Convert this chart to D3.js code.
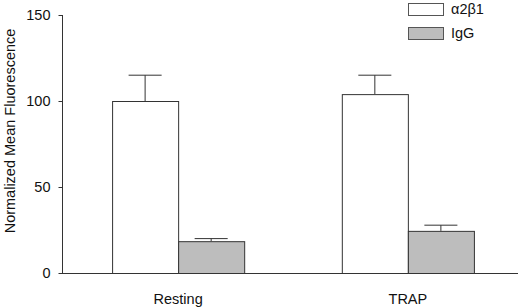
<!DOCTYPE html>
<html>
<head>
<meta charset="utf-8">
<script src="https://cdn.jsdelivr.net/npm/d3@7"></script>
<style>
  body { margin: 0; background: #fff; }
  svg text { font-family: "Liberation Sans", Arial, sans-serif; fill: #111; }
</style>
</head>
<body>
<div id="chart"></div>
<script>
"use strict";

// values
var conditions = ["Resting", "TRAP"];
var series = ["α2β1", "IgG"];
var means = [[100, 18.5], [104, 24.5]];
var errors = [[15, 1.5], [11, 3.3]];
var yTicks = [0, 50, 100, 150];
var colours = ["#ffffff", "#bdbdbd"];

var width = 520, height = 307;

var svg = d3.select("#chart")
            .append("svg")
            .attr("width", width)
            .attr("height", height);

var y = d3.scaleLinear()
          .domain([0, 150])
          .range([273, 15]);

var x = d3.scaleBand()
          .domain(conditions)
          .range([65, 521])
          .paddingInner(0.425)
          .paddingOuter(0.205);

var xs = d3.scaleBand()
           .domain(series)
           .range([0, x.bandwidth()]);

// y axis
var yAxis = d3.axisLeft(y)
              .tickValues(yTicks)
              .tickSize(4)
              .tickPadding(8);
svg.append("g")
   .attr("transform", "translate(62.5,0)")
   .call(yAxis)
   .call(function(g) {
     g.select(".domain").attr("stroke", "#333").attr("d", "M0," + y(150) + "V" + y(0));
     g.selectAll(".tick line").attr("stroke", "#333");
     g.selectAll(".tick text").attr("font-size", 14.5).attr("fill", "#111");
   });

// baseline
var xAxis = d3.axisBottom(x).tickSize(0).tickPadding(20);
svg.append("g")
   .attr("transform", "translate(0," + (y(0) + 0.5) + ")")
   .call(xAxis)
   .call(function(g) {
     g.select(".domain").attr("stroke", "#333").attr("d", "M62,0H518");
     g.selectAll(".tick text").attr("font-size", 14.5).attr("fill", "#111");
   });

svg.append("text")
   .attr("transform", "translate(15,131) rotate(-90)")
   .attr("text-anchor", "middle")
   .attr("font-size", 14.5)
   .text("Normalized Mean Fluorescence");

// bars
conditions.forEach(function(c, i) {
  var g = svg.append("g").attr("transform", "translate(" + x(c) + ",0)");
  series.forEach(function(s, j) {
    var bx = xs(s), bw = xs.bandwidth();
    var top = y(means[i][j] + errors[i][j]);
    g.append("line")
     .attr("x1", bx + bw / 2).attr("x2", bx + bw / 2)
     .attr("y1", y(means[i][j])).attr("y2", top)
     .attr("stroke", "#333");
    g.append("line")
     .attr("x1", bx + bw / 4).attr("x2", bx + bw * 3 / 4)
     .attr("y1", top).attr("y2", top)
     .attr("stroke", "#333");
    g.append("rect")
     .attr("x", bx + 0.5)
     .attr("y", y(means[i][j]) + 0.5)
     .attr("width", bw)
     .attr("height", y(0) - y(means[i][j]))
     .attr("fill", colours[j])
     .attr("stroke", "#333");
  });
});

// legend
var legend = svg.append("g").attr("transform", "translate(408,3)");
series.forEach(function(s, j) {
  legend.append("rect")
        .attr("x", 0.5).attr("y", j * 24 + 0.5)
        .attr("width", 35).attr("height", 12)
        .attr("fill", colours[j])
        .attr("stroke", "#555");
  legend.append("text")
        .attr("x", 43).attr("y", j * 24 + 11)
        .attr("font-size", 14.5)
        .text(s);
});
</script>
</body>
</html>
